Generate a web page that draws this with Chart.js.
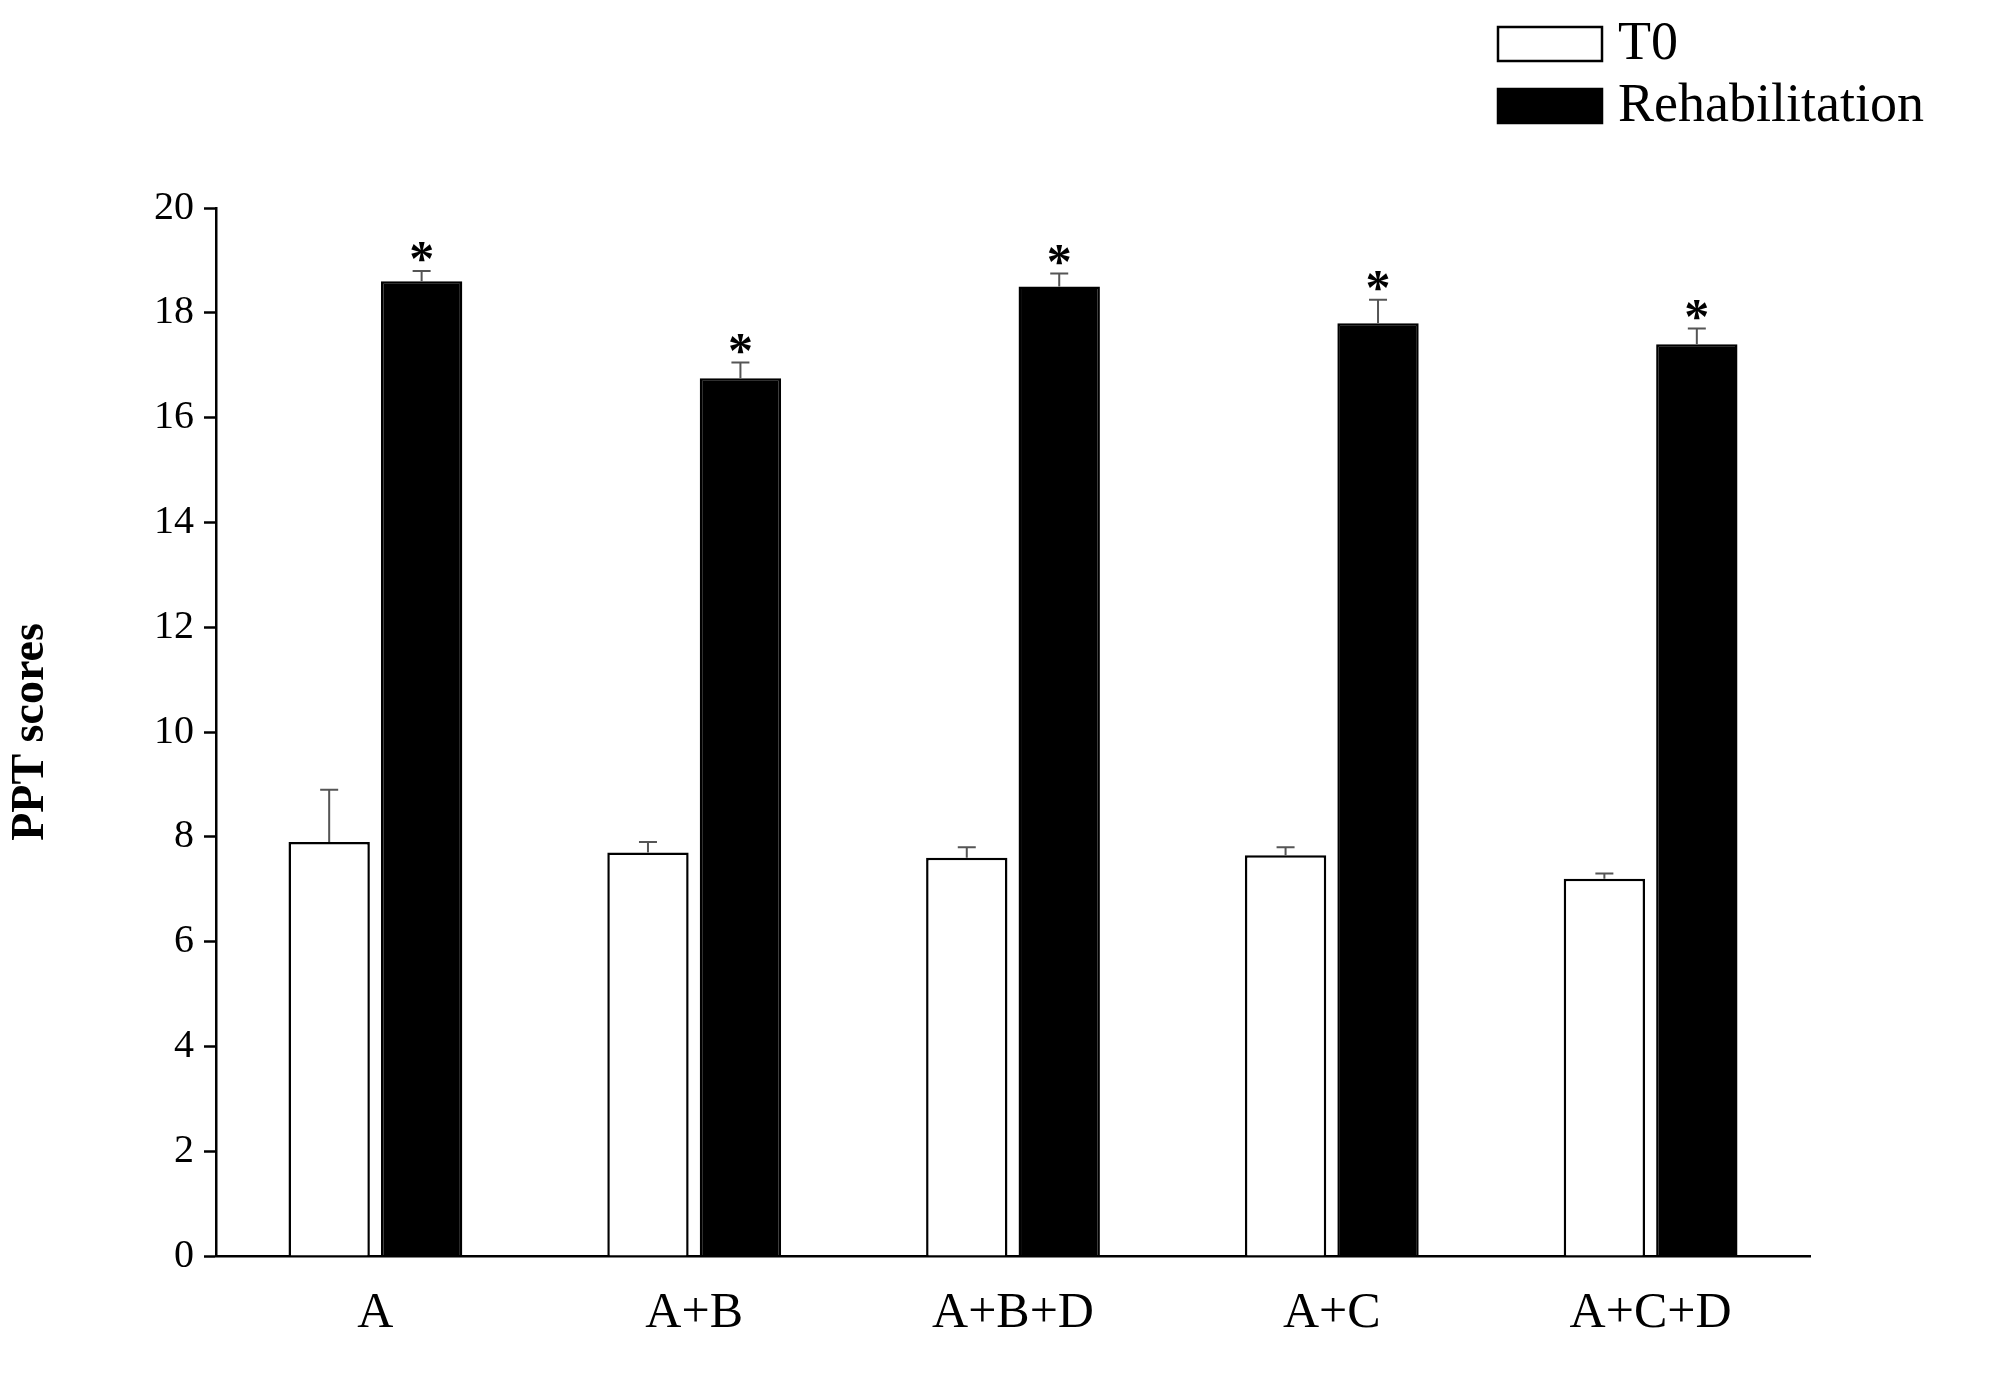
<!DOCTYPE html>
<html><head><meta charset="utf-8">
<script src="https://cdn.jsdelivr.net/npm/chart.js@4"></script>
<style>html,body{margin:0;background:#fff}#w{width:2013px;height:1382px}</style>
</head><body><div id="w"><canvas id="c"></canvas></div>
<script>
const categories=["A","A+B","A+B+D","A+C","A+C+D"];
const t0Values=[7.9,7.7,7.6,7.65,7.2];
const t0ErrTop=[8.9,7.9,7.8,7.8,7.3];
const rehabValues=[18.6,16.75,18.5,17.8,17.4];
const rehabErrTop=[18.8,17.05,18.75,18.25,17.7];
const yTicks=[0,2,4,6,8,10,12,14,16,18,20];
const F="'Liberation Serif', 'Times New Roman', serif";
const extras={id:'extras',afterDatasetsDraw(ch){
  const c=ch.ctx,y=ch.scales.y;
  [[0,t0ErrTop],[1,rehabErrTop]].forEach(([i,tops])=>{
    ch.getDatasetMeta(i).data.forEach((b,k)=>{
      const yt=y.getPixelForValue(tops[k]);
      c.save();c.strokeStyle='#555';c.lineWidth=2;c.beginPath();
      c.moveTo(b.x,b.y);c.lineTo(b.x,yt);c.moveTo(b.x-9,yt);c.lineTo(b.x+9,yt);c.stroke();
      if(i===1){c.fillStyle='#000';c.font='bold 50px '+F;c.textAlign='center';c.textBaseline='alphabetic';c.fillText('*',b.x,yt+4);}
      c.restore();
    });
  });
  c.save();c.font='54px '+F;c.textBaseline='middle';c.fillStyle='#000';
  ch.data.datasets.forEach((d,i)=>{
    const yy=43+i*62;
    c.fillStyle=d.backgroundColor;c.fillRect(1498,yy-16,104,34);
    c.strokeStyle='#000';c.lineWidth=2.5;c.strokeRect(1498,yy-16,104,34);
    c.fillStyle='#000';c.fillText(d.label,1618,yy+2);
  });
  c.restore();
}};
new Chart(document.getElementById('c'),{type:'bar',
 data:{labels:categories,datasets:[
  {label:'T0',data:t0Values,backgroundColor:'#fff',borderColor:'#000',borderWidth:2.5},
  {label:'Rehabilitation',data:rehabValues,backgroundColor:'#000',borderColor:'#000',borderWidth:2.5}]},
 options:{responsive:true,maintainAspectRatio:false,animation:false,
  layout:{padding:{top:208,right:203,left:0,bottom:10}},
  plugins:{legend:{display:false},tooltip:{enabled:false}},
  datasets:{bar:{categoryPercentage:0.58,barPercentage:0.88}},
  scales:{
   x:{grid:{display:false,drawTicks:false},border:{color:'#000',width:2.5},
      ticks:{color:'#000',font:{family:F,size:50},padding:28}},
   y:{min:0,max:20,afterBuildTicks(a){a.ticks=yTicks.map(v=>({value:v}));},
      afterFit(s){s.width=216;},
      grid:{display:true,drawOnChartArea:false,drawTicks:true,tickLength:12,tickColor:'#000',tickWidth:2.5},
      border:{color:'#000',width:2.5},
      ticks:{color:'#000',font:{family:F,size:40},padding:10},
      title:{display:true,text:'PPT scores',color:'#000',font:{family:F,size:46,weight:'bold'},padding:{bottom:20}}}
  }},
 plugins:[extras]});
</script></body></html>
